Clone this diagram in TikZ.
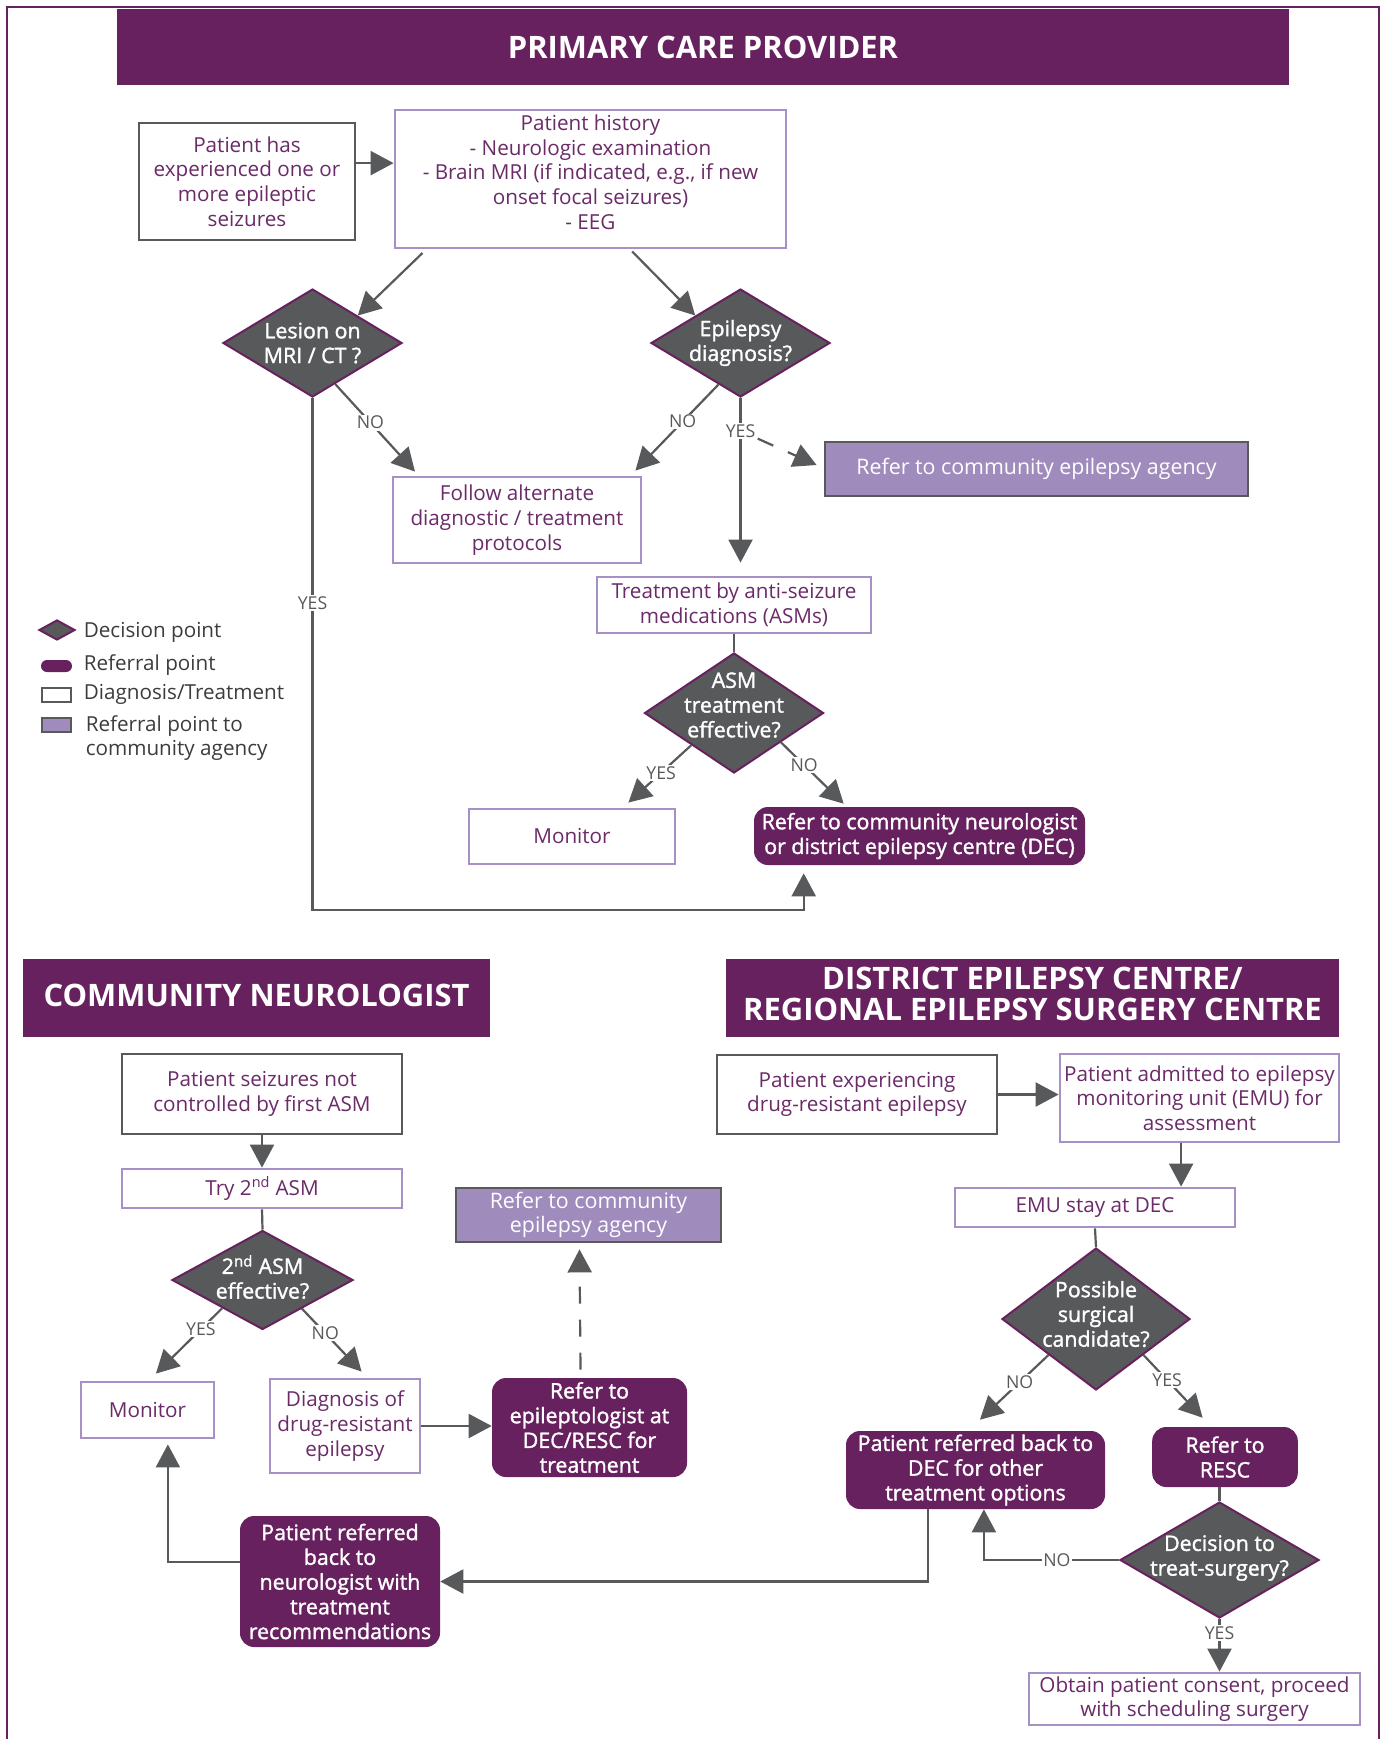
\documentclass[tikz,border=0pt]{standalone}
\usepackage{fontspec}
\setmainfont{Open Sans}
\IfFontExistsTF{Open Sans SemiBold}{\newfontfamily\osemib{Open Sans SemiBold}}{\newfontfamily\osemib{Open Sans}[FakeBold=1.5]}
\usetikzlibrary{shapes.geometric,arrows.meta,positioning}

\definecolor{cpurple}{HTML}{68215F}
\definecolor{clavender}{HTML}{A08BBD}
\definecolor{cgray}{HTML}{58595B}
\definecolor{cborder}{HTML}{A790C6}
\definecolor{ctext}{HTML}{6B2A68}
\definecolor{clegend}{HTML}{3C3C3E}

\tikzset{
  boxtext/.style={align=center, inner sep=0pt, font=\fontsize{14.7pt}{17.6pt}\selectfont},
  diagbox/.style={boxtext, draw=cgray, line width=0.7mm, fill=white, text=ctext},
  treatbox/.style={boxtext, draw=cborder, line width=0.7mm, fill=white, text=ctext},
  referbox/.style={boxtext, fill=cpurple, rounded corners=3.5mm, text=white, font=\osemib\fontsize{15.2pt}{17.6pt}\selectfont},
  agencybox/.style={boxtext, draw=cgray, line width=0.7mm, fill=clavender, text=white, font=\fontsize{15.2pt}{17.6pt}\selectfont},
  decision/.style={diamond, fill=cgray, draw=cpurple, line width=0.5mm, inner sep=0pt},
  dectext/.style={text=white, align=center, inner sep=0pt, font=\osemib\fontsize{15.2pt}{17.6pt}\selectfont},
  header/.style={fill=cpurple, text=white, align=center, inner sep=0pt, font=\bfseries\fontsize{22pt}{22pt}\selectfont},
  link/.style={draw=cgray, line width=0.55mm, -{Triangle[length=5.75mm,width=6mm]}},
  plainlink/.style={draw=cgray, line width=0.55mm},
  dashlink/.style={link, dash pattern=on 4.25mm off 4mm},
  yesno/.style={fill=white, text=cgray, inner sep=1pt, font=\fontsize{12.6pt}{14pt}\selectfont},
  legtext/.style={anchor=west, inner sep=0pt, align=left, text=clegend, font=\fontsize{14.7pt}{17.6pt}\selectfont},
}

\begin{document}
\begin{tikzpicture}[x=0.25mm,y=-0.25mm]
  \useasboundingbox (0,0) rectangle (1384,1739);
  \draw[cpurple, line width=0.6mm] (7,1739) -- (7,7) -- (1379,7) -- (1379,1739);

  % primary care provider
  \node[header, minimum width=293mm, minimum height=19mm] (hdpcp) at (703,47) {PRIMARY CARE PROVIDER};
  \node[diagbox, minimum width=54mm, minimum height=29.25mm] (seizbox) at (247,181.5) {Patient has\\experienced one or\\more epileptic\\seizures};
  \node[treatbox, minimum width=97.75mm, minimum height=34.5mm] (histbox) at (590.5,179) {Patient history\\- Neurologic examination\\- Brain MRI (if indicated, e.g., if new\\onset focal seizures)\\- EEG\\[-2.7mm]\mbox{}};
  \node[decision, minimum width=44.75mm, minimum height=27mm, label={[dectext]center:Lesion on\\MRI / CT ?}] (lesion) at (312.5,343) {};
  \node[decision, minimum width=44.75mm, minimum height=27mm, label={[dectext]center:Epilepsy\\diagnosis?}] (epidiag) at (740.5,343) {};
  \node[treatbox, minimum width=62mm, minimum height=21.5mm] (altproto) at (517,520) {Follow alternate\\diagnostic / treatment\\protocols};
  \node[agencybox, minimum width=105.75mm, minimum height=13.5mm] (agencyA) at (1036.5,469) {Refer to community epilepsy agency};
  \node[treatbox, minimum width=68.5mm, minimum height=14mm] (asmtx) at (734,605) {Treatment by anti-seizure\\medications (ASMs)};
  \node[decision, minimum width=44.75mm, minimum height=30mm, label={[dectext,yshift=2mm]center:ASM\\treatment\\effective?}] (asmeff) at (734,713) {};
  \node[treatbox, minimum width=51.5mm, minimum height=13.75mm] (monA) at (572,836.5) {Monitor};
  \node[referbox, minimum width=82.75mm, minimum height=14.5mm] (refdec) at (919.5,836) {Refer to community neurologist\\or district epilepsy centre (DEC)};
  \coordinate (yesbend) at (560,910);

  \coordinate (ab) at ([yshift=4.6mm]seizbox.east);
  \draw[link] (ab) -- (ab -| histbox.west);
  \draw[link] ([xshift=-42mm,yshift=-0.9mm]histbox.south) -- (lesion.north east);
  \draw[link] ([xshift=10.4mm,yshift=-0.5mm]histbox.south) -- (epidiag.north west);
  \draw[link] (lesion.-61) -- node[yesno,pos=0.44]{NO} ([xshift=-25.5mm,yshift=1mm]altproto.north);
  \draw[link] (epidiag.-118) -- node[yesno,pos=0.43]{NO} ([xshift=-1.75mm,yshift=1.25mm]altproto.north east);
  \coordinate (asmin) at ([yshift=3.25mm]asmtx.north);
  \draw[link] (epidiag.south) -- node[yesno,pos=0.2] (yeslbl) {YES} (epidiag.south |- asmin);
  \draw[dashlink] (yeslbl) -- ([xshift=-1.75mm,yshift=1mm]agencyA.west);
  \draw[plainlink] (asmtx.south) -- (asmeff.north);
  \draw[link] (asmeff.-143) -- node[yesno,pos=0.48]{YES} ([xshift=-12mm,yshift=1.25mm]monA.north east);
  \draw[link] (asmeff.-32) -- node[yesno,pos=0.37]{NO} ([xshift=22.5mm,yshift=0.75mm]refdec.north west);
  \draw[link] (lesion.south) |- node[yesno,pos=0.2]{YES} (yesbend) -| ([xshift=12.5mm,yshift=-2mm]refdec.south west);

  % legend
  \node[decision, minimum width=9mm, minimum height=5mm] (legdec) at (57,630) {};
  \node[legtext] (legdectx) at (83.5,632) {Decision point};
  \node[fill=cpurple, rounded corners=1.5mm, minimum width=7.75mm, minimum height=3mm, inner sep=0pt] (legref) at (56.5,666) {};
  \node[legtext] (legreftx) at (83.5,665) {Referral point};
  \node[draw=cgray, line width=0.6mm, fill=white, minimum width=7.25mm, minimum height=3.5mm, inner sep=0pt] (legdiag) at (56.5,695) {};
  \node[legtext] (legdiagtx) at (83.5,694) {Diagnosis/Treatment};
  \node[draw=cgray, line width=0.6mm, fill=clavender, minimum width=7.25mm, minimum height=3.5mm, inner sep=0pt] (legagency) at (56.5,725) {};
  \node[legtext] (legagencytx) at (85.5,738) {Referral point to\\community agency};

  % community neurologist
  \node[header, minimum width=116.75mm, minimum height=19.5mm, text depth=1.6mm] (hdcn) at (256.5,998) {COMMUNITY NEUROLOGIST};
  \node[diagbox, minimum width=70mm, minimum height=20mm] (notctrl) at (262,1094) {Patient seizures not\\controlled by first ASM};
  \node[treatbox, minimum width=70mm, minimum height=9.75mm] (try2) at (262,1188.5) {Try 2\textsuperscript{nd} ASM};
  \node[decision, minimum width=45.25mm, minimum height=24.75mm, label={[dectext,yshift=0.75mm]center:2\textsuperscript{nd} ASM\\effective?}] (asm2eff) at (262.5,1280) {};
  \node[treatbox, minimum width=33.25mm, minimum height=14mm] (monB) at (147.5,1410) {Monitor};
  \node[treatbox, minimum width=37.5mm, minimum height=23.5mm] (drdiag) at (345,1426) {Diagnosis of\\drug-resistant\\epilepsy};
  \node[referbox, minimum width=48.75mm, minimum height=24.75mm] (refepi) at (589.5,1427.5) {Refer to\\epileptologist at\\DEC/RESC for\\treatment};
  \node[agencybox, minimum width=66.25mm, minimum height=13.5mm] (agencyB) at (588.5,1215) {Refer to community\\epilepsy agency};
  \node[referbox, minimum width=50mm, minimum height=32.75mm] (backneuro) at (340,1581.5) {Patient referred\\back to\\neurologist with\\treatment\\recommendations};

  \draw[link] (notctrl.south) -- (try2.north);
  \draw[plainlink] (try2.south) -- (asm2eff.north);
  \draw[link] (asm2eff.-145) -- node[yesno,pos=0.32]{YES} ([xshift=2.1mm,yshift=1.75mm]monB.north);
  \draw[link] (asm2eff.-36) -- node[yesno,pos=0.39]{NO} ([xshift=4.15mm,yshift=1.5mm]drdiag.north);
  \draw[link] (drdiag.east) -- (drdiag.east -| refepi.west);
  \draw[dashlink] ([xshift=-2.25mm,yshift=2mm]refepi.north) -- ([xshift=-2.25mm,yshift=-1.5mm]agencyB.south);
  \draw[link] ([yshift=4.9mm]backneuro.west) -| ([xshift=5.1mm,yshift=-1.25mm]monB.south);

  % district / regional centre
  \node[header, minimum width=153.25mm, minimum height=19.5mm] (hddec) at (1032.5,998) {DISTRICT EPILEPSY CENTRE/\\REGIONAL EPILEPSY SURGERY CENTRE\\[-5.5mm]\mbox{}};
  \node[diagbox, minimum width=70mm, minimum height=19.75mm] (drexp) at (857,1094.5) {Patient experiencing\\drug-resistant epilepsy};
  \node[treatbox, minimum width=69.75mm, minimum height=22mm] (emuadmit) at (1199.5,1098) {Patient admitted to epilepsy\\monitoring unit (EMU) for\\assessment};
  \node[treatbox, minimum width=70mm, minimum height=9.75mm] (emustay) at (1095,1207.5) {EMU stay at DEC};
  \node[decision, minimum width=47mm, minimum height=35.5mm, label={[dectext,yshift=1.25mm]center:Possible\\surgical\\candidate?}] (surgcand) at (1096,1319) {};
  \node[referbox, minimum width=64.75mm, minimum height=19.5mm] (backdec) at (975.5,1470) {Patient referred back to\\DEC for other\\treatment options};
  \node[referbox, minimum width=36.4mm, minimum height=15mm] (refresc) at (1225,1457) {Refer to\\RESC};
  \node[decision, minimum width=49.75mm, minimum height=29mm, label={[dectext,yshift=0.5mm]center:Decision to\\treat-surgery?}] (treatsurg) at (1219.5,1560) {};
  \node[treatbox, minimum width=82.75mm, minimum height=13mm] (consent) at (1194.5,1699) {Obtain patient consent, proceed\\with scheduling surgery};

  \coordinate (emuin) at ([xshift=-4.6mm]emuadmit.south);
  \draw[link] (drexp.east) -- (drexp.east -| emuadmit.west);
  \draw[link] (emuin) -- (emuin |- emustay.north);
  \draw[plainlink] (emustay.south) -- (surgcand.north);
  \draw[link] (surgcand.south west) -- node[yesno,pos=0.42]{NO} ([xshift=1.1mm,yshift=2.75mm]backdec.north);
  \draw[link] (surgcand.south east) -- node[yesno,pos=0.4]{YES} ([xshift=-5.6mm,yshift=2.25mm]refresc.north);
  \draw[plainlink] (refresc.south -| treatsurg.north) -- (treatsurg.north);
  \draw[link] (treatsurg.west) -| node[yesno,pos=0.23]{NO} ([xshift=2.1mm]backdec.south);
  \draw[link] (treatsurg.south) -- node[yesno,pos=0.27]{YES} (treatsurg.south |- consent.north);
  \draw[link] ([xshift=-11.9mm]backdec.south) |- (backneuro.east);
\end{tikzpicture}
\end{document}
